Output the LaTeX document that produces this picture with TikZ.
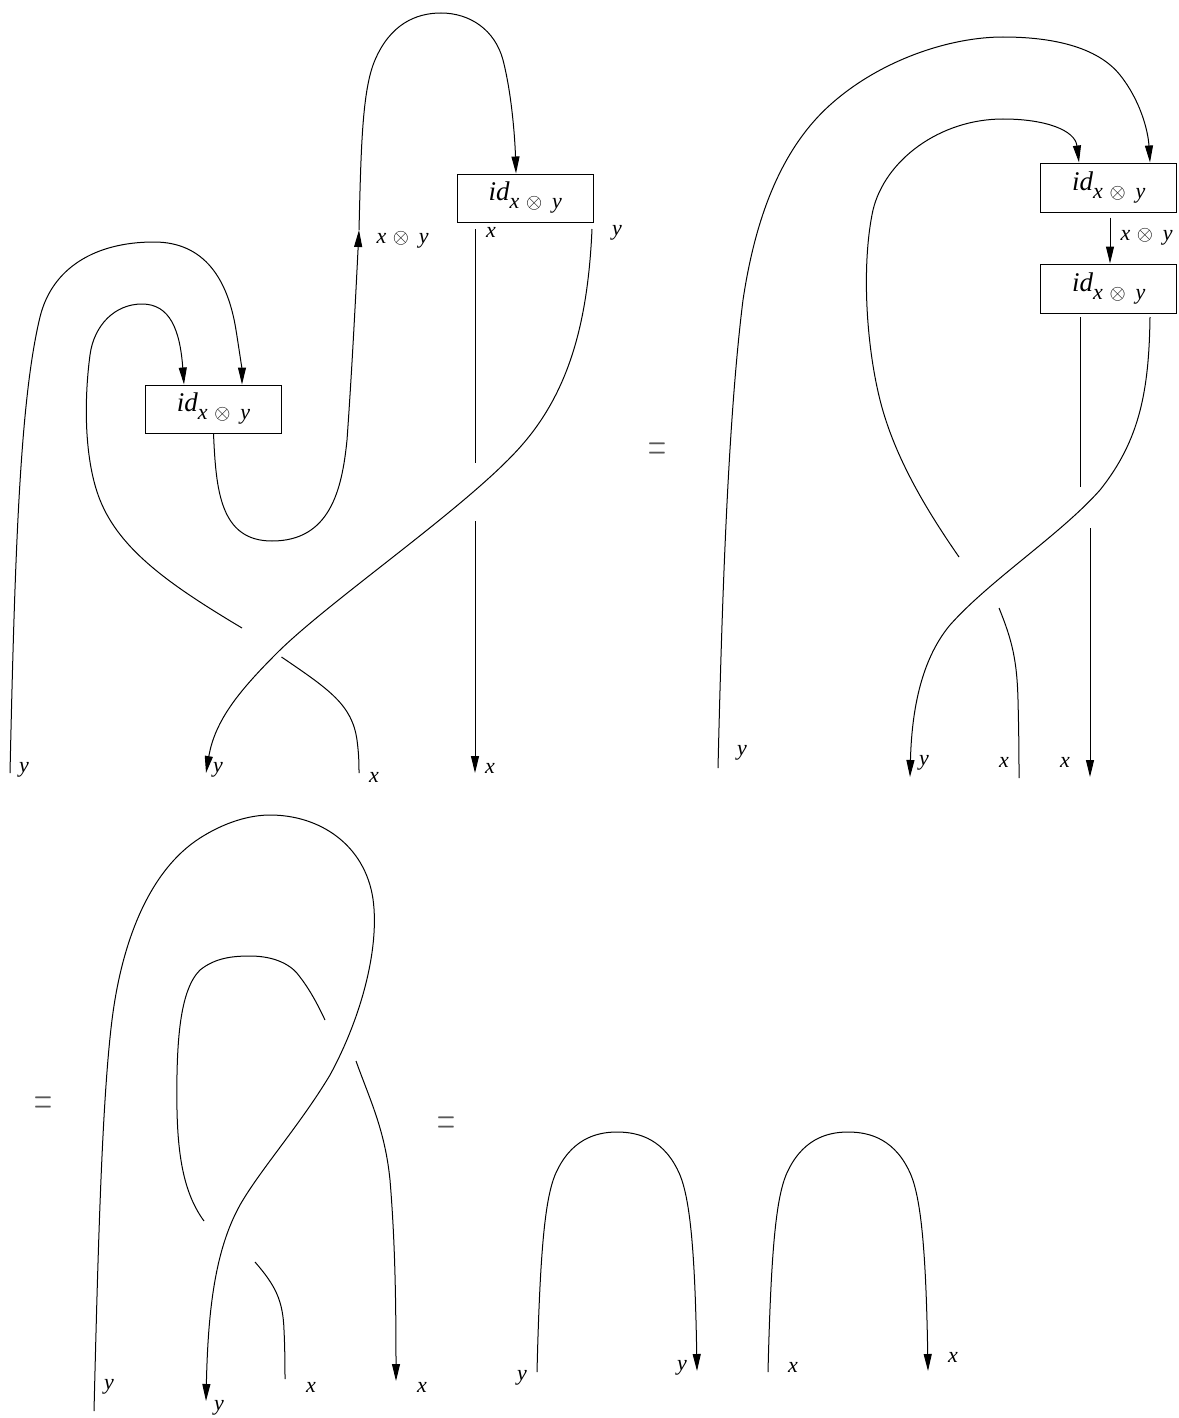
\documentclass[tikz,border=0pt]{standalone}
\usepackage{fontspec}
\setmainfont{Liberation Serif}
\usetikzlibrary{arrows.meta,calc}
\newcommand{\xoy}{x\hspace{0.3em}$\otimes$\hspace{0.45em}y}
\newcommand{\idxy}{{\fontsize{27}{27}\selectfont\itshape id}\raisebox{-8pt}{\fontsize{22}{22}\selectfont\itshape \xoy}}
\newcommand{\eqsign}{\scalebox{1}[2.1]{$=$}}
\begin{document}
\begin{tikzpicture}[x=1pt,y=-1pt,line width=1pt,
  arr/.style={-{Triangle[length=17pt,width=8pt]}},
  idbox/.style={draw,line width=1pt,minimum width=136pt,minimum height=48pt,inner sep=0pt},
  lab/.style={font=\fontsize{22}{22}\selectfont\itshape,inner sep=0pt},
  eqs/.style={inner sep=0pt,text=black!65,font=\fontsize{25}{25}\selectfont}]
\useasboundingbox (0,0) rectangle (1178,1418);

% ---------- top-left diagram ----------
\node[idbox] (A) at (213.5,409) {\idxy};
\node[idbox] (B) at (525.3,198) {\idxy};
\coordinate (Ain1) at ($(A.north)+(-29.5,0)$);
\coordinate (Ain2) at ($(A.north)+(28.5,0)$);
\coordinate (Bin) at ($(B.north)+(-9.3,0)$);
\coordinate (Bx) at (475,229);
\coordinate (By) at (592,229);
\coordinate (a1) at (10,773);
\coordinate (a2s) at (242,628);
\coordinate (a2t) at (281.5,657);
\coordinate (a2e) at (359,773);
\coordinate (m1) at (359,230);
\coordinate (bx1) at (475,463);
\coordinate (bx2) at (475,521);
\coordinate (bx3) at (475,773);
\coordinate (by1) at (206,773);

\draw[arr] (a1) .. controls (15,550) and (20,400) .. (40,317)
  .. controls (52,268) and (95,242) .. (154,242)
  .. controls (205,242) and (228,280) .. (236,330)
  .. controls (240,355) and (242,370) .. (Ain2);
\draw[arr] (a2s) .. controls (170,585) and (120,550) .. (100,500)
  .. controls (84,460) and (84,400) .. (90,355)
  .. controls (94,325) and (115,304) .. (142,304)
  .. controls (170,304) and (180,330) .. (Ain1);
\draw (a2t) .. controls (330,690) and (352,705) .. (357,740)
  .. controls (359,755) and (359,765) .. (a2e);
\draw[arr] (A.south) .. controls (216,490) and (220,541) .. (272,541)
  .. controls (330,541) and (342,490) .. (347,440)
  .. controls (352,370) and (356,290) .. (m1);
\draw[arr] (m1) .. controls (361,150) and (362,90) .. (375,60)
  .. controls (390,25) and (415,13) .. (441,13)
  .. controls (470,13) and (495,30) .. (503,60)
  .. controls (512,95) and (515,140) .. (Bin);
\draw (Bx) -- (bx1);
\draw[arr] (bx2) -- (bx3);
\draw[arr] (By) .. controls (588,320) and (570,390) .. (522,445)
  .. controls (470,505) and (330,600) .. (277,653)
  .. controls (240,690) and (215,720) .. (by1);

\node[lab,anchor=west] (t1) at (376,240) {\xoy};
\node[lab] (t2) at (491,232) {x};
\node[lab] (t3) at (617,233) {y};
\node[lab] (t4) at (24,770) {y};
\node[lab] (t5) at (218,770) {y};
\node[lab] (t6) at (374,777) {x};
\node[lab] (t7) at (490,768) {x};

\node[eqs] (eq1) at (657,452) {\eqsign};

% ---------- top-right diagram ----------
\node[idbox,minimum height=49pt] (C) at (1108.7,187.5) {\idxy};
\node[idbox,minimum height=49pt] (D) at (1108.7,288.5) {\idxy};
\coordinate (Cin1) at ($(C.north)+(-29.7,0)$);
\coordinate (Cin2) at ($(C.north)+(41.3,0)$);
\coordinate (Cout) at ($(C.south)+(1.3,5)$);
\coordinate (Din) at ($(D.north)+(1.3,0)$);
\coordinate (Dx) at (1080,317);
\coordinate (Dy) at (1150,317);
\coordinate (c1) at (718,768);
\coordinate (c2s) at (959,557);
\coordinate (c2t) at (999,608);
\coordinate (c2e) at (1019,778);
\coordinate (dx1) at (1080,487);
\coordinate (dx2) at (1090,528);
\coordinate (dx3) at (1090,777);
\coordinate (dy1) at (910,777);

\draw[arr] (c1) .. controls (722,600) and (728,420) .. (743,300)
  .. controls (755,220) and (780,150) .. (830,105)
  .. controls (880,60) and (950,37) .. (1003,37)
  .. controls (1060,37) and (1100,50) .. (1120,75)
  .. controls (1140,100) and (1148,130) .. (Cin2);
\draw[arr] (c2s) .. controls (930,515) and (895,460) .. (880,400)
  .. controls (865,340) and (862,260) .. (873,210)
  .. controls (885,160) and (940,119) .. (1003,119)
  .. controls (1045,119) and (1075,130) .. (Cin1);
\draw (c2t) .. controls (1012,640) and (1017,660) .. (1018,700)
  .. controls (1019,740) and (1019,760) .. (c2e);
\draw[arr] (Cout) -- (Din);
\draw (Dx) -- (dx1);
\draw[arr] (dx2) -- (dx3);
\draw[arr] (Dy) .. controls (1149,390) and (1140,440) .. (1100,490)
  .. controls (1060,535) and (990,580) .. (950,625)
  .. controls (925,655) and (912,700) .. (dy1);

\node[lab,anchor=west] (u1) at (1120,237) {\xoy};
\node[lab] (u2) at (742,753) {y};
\node[lab] (u3) at (924,763) {y};
\node[lab] (u4) at (1004,762) {x};
\node[lab] (u5) at (1065,762) {x};

% ---------- bottom-left diagram ----------
\node[eqs] (eq2) at (43,1106) {\eqsign};
\coordinate (e1) at (94,1411);
\coordinate (e1t) at (206,1401);
\coordinate (f1) at (255,1262);
\coordinate (f1e) at (285,1379);
\coordinate (f2s) at (204,1221);
\coordinate (f2e) at (325,1020);
\coordinate (f3s) at (356,1061);
\coordinate (f3e) at (396,1381);

\draw[arr] (e1) .. controls (98,1250) and (102,1100) .. (112,1020)
  .. controls (122,940) and (150,870) .. (200,838)
  .. controls (225,822) and (250,815) .. (270,815)
  .. controls (320,815) and (365,845) .. (373,899)
  .. controls (380,950) and (360,1020) .. (330,1075)
  .. controls (300,1125) and (260,1170) .. (240,1205)
  .. controls (215,1250) and (208,1310) .. (e1t);
\draw (f1) .. controls (275,1285) and (283,1300) .. (284,1330)
  .. controls (285,1350) and (285,1370) .. (f1e);
\draw (f2s) .. controls (185,1195) and (178,1160) .. (177,1110)
  .. controls (176,1040) and (180,990) .. (200,970)
  .. controls (215,958) and (232,956) .. (250,956)
  .. controls (275,956) and (292,965) .. (300,977)
  .. controls (310,990) and (318,1005) .. (f2e);
\draw[arr] (f3s) .. controls (370,1100) and (385,1130) .. (390,1180)
  .. controls (395,1240) and (396,1300) .. (f3e);

\node[lab] (v1) at (109,1387) {y};
\node[lab] (v2) at (219,1408) {y};
\node[lab] (v3) at (311,1387) {x};
\node[lab] (v4) at (422,1387) {x};

\node[eqs] (eq3) at (446,1126) {\eqsign};

% ---------- bottom-right caps ----------
\coordinate (g1) at (537,1372);
\coordinate (g1e) at (697,1371);
\coordinate (g2) at (768,1372);
\coordinate (g2e) at (928,1371);
\draw[arr] (g1) .. controls (540,1250) and (545,1200) .. (555,1175)
  .. controls (570,1140) and (595,1132) .. (617,1132)
  .. controls (640,1132) and (665,1140) .. (680,1175)
  .. controls (690,1200) and (695,1250) .. (g1e);
\draw[arr] (g2) .. controls (771,1250) and (776,1200) .. (786,1175)
  .. controls (801,1140) and (826,1132) .. (848,1132)
  .. controls (871,1132) and (896,1140) .. (911,1175)
  .. controls (921,1200) and (926,1250) .. (g2e);
\node[lab] (w1) at (522,1378) {y};
\node[lab] (w2) at (682,1368) {y};
\node[lab] (w3) at (793,1367) {x};
\node[lab] (w4) at (953,1357) {x};
\end{tikzpicture}
\end{document}
